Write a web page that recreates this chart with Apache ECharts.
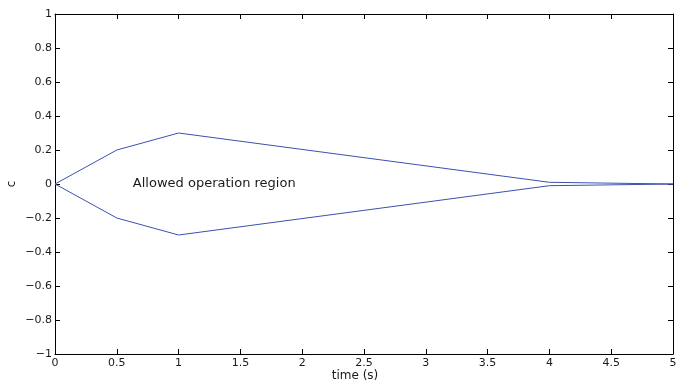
<!DOCTYPE html>
<html><head><meta charset="utf-8">
<script src="https://cdn.jsdelivr.net/npm/echarts@6/dist/echarts.min.js"></script>
<style>html,body{margin:0;padding:0;background:#fff}#c{width:676px;height:382px}</style>
</head><body><div id="c"></div>
<script>
const timeS = [0, 0.5, 1, 4, 5];
const upperC = [0, 0.2, 0.3, 0.01, 0];
const lowerC = [0, -0.2, -0.3, -0.01, 0];
const annotationText = 'Allowed operation region';
const annotationPos = [0.63, 0];
const xTitle = 'time (s)';
const yTitle = 'c';

const font = 'DejaVu Sans, Liberation Sans, Arial, sans-serif';
const fmt = v => { const s = (Math.round(v*10)/10).toString(); return s.replace('-', '\u2212'); };
const lineColor = '#3c50b0';
const textColor = '#1a1a1a';
const axisBase = {
  axisLine: {show: true, onZero: false, lineStyle: {color: '#000', width: 1}},
  axisTick: {show: true, inside: true, length: 5, lineStyle: {color: '#000'}},
  splitLine: {show: false}
};
const chart = echarts.init(document.getElementById('c'), null, {renderer: 'canvas'});
chart.setOption({
  animation: false,
  grid: {left: 55, right: 3, top: 14, bottom: 28, containLabel: false, outerBoundsMode: 'none'},
  xAxis: [
    Object.assign({type: 'value', min: 0, max: 5, interval: 0.5, position: 'bottom',
      name: xTitle, nameLocation: 'middle', nameGap: 16, nameMoveOverlap: false,
      nameTextStyle: {fontFamily: font, fontSize: 12, color: textColor, padding: [0, 18, 0, 0]},
      axisLabel: {formatter: fmt, fontFamily: font, fontSize: 11, color: textColor, margin: 4}}, axisBase),
    Object.assign({type: 'value', min: 0, max: 5, interval: 0.5, position: 'top',
      axisLabel: {show: false}}, axisBase)
  ],
  yAxis: [
    Object.assign({type: 'value', min: -1, max: 1, interval: 0.2, position: 'left',
      name: yTitle, nameLocation: 'middle', nameGap: 37, nameRotate: 90, nameMoveOverlap: false,
      nameTextStyle: {fontFamily: font, fontSize: 12, color: textColor},
      axisLabel: {formatter: fmt, fontFamily: font, fontSize: 11, color: textColor, margin: 3}}, axisBase),
    Object.assign({type: 'value', min: -1, max: 1, interval: 0.2, position: 'right',
      axisLabel: {show: false}}, axisBase)
  ],
  series: [
    {type: 'line', data: timeS.map((t,i)=>[t, upperC[i]]), symbol: 'none',
      lineStyle: {color: lineColor, width: 1}},
    {type: 'line', data: timeS.map((t,i)=>[t, lowerC[i]]), symbol: 'none',
      lineStyle: {color: lineColor, width: 1},
      markPoint: {symbol: 'circle', symbolSize: 0,
        data: [{coord: annotationPos, value: annotationText,
          label: {show: true, formatter: annotationText, position: 'right', distance: 0,
            fontFamily: font, fontSize: 13, color: textColor}}]}}
  ]
});
</script></body></html>
